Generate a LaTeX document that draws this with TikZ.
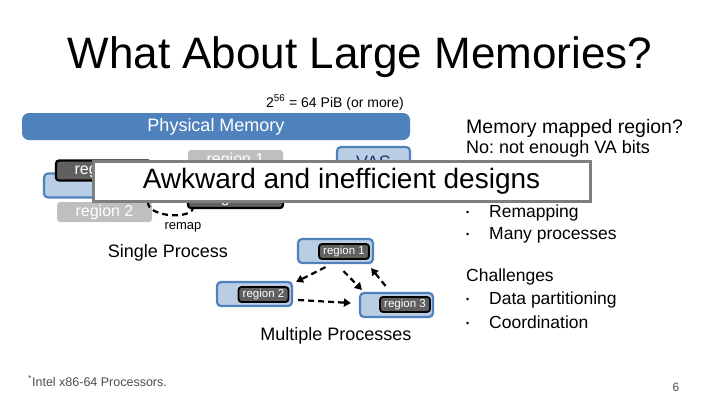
\documentclass[tikz,border=0pt]{standalone}
\usepackage{fontspec}
\setmainfont{Liberation Sans}
\usetikzlibrary{arrows.meta}
\definecolor{barblue}{HTML}{4F81BD}
\definecolor{vasfill}{HTML}{B9CDE5}
\definecolor{vasink}{HTML}{1F3864}
\definecolor{darkreg}{HTML}{606060}
\definecolor{lightreg}{HTML}{BFBFBF}
\definecolor{framegrey}{HTML}{7F7F7F}
\frenchspacing

\begin{document}
\begin{tikzpicture}[
  x=1pt, y=-1pt,
  >={Triangle[length=7pt,width=8pt]},
  big/.style={font=\fontsize{18}{21}\selectfont, inner sep=0pt},
  side/.style={font=\fontsize{17.5}{21}\selectfont, anchor=west, inner sep=0pt},
  bar/.style={fill=barblue, rounded corners=7pt, text=white, inner sep=0pt,
              minimum width=388pt, minimum height=27pt,
              font=\fontsize{18}{21}\selectfont},
  vas/.style={draw=barblue, fill=vasfill, line width=2.2pt, rounded corners=4pt,
              minimum width=75pt, minimum height=24pt, inner sep=0pt},
  reglight/.style={fill=lightreg, rounded corners=3pt, text=white, inner sep=0pt,
                   minimum width=95pt, minimum height=20pt,
                   font=\fontsize{16}{18}\selectfont},
  regdark/.style={draw=black, fill=darkreg, line width=2.2pt, rounded corners=3pt,
                  text=white, inner sep=0pt, minimum width=95pt, minimum height=20pt,
                  font=\fontsize{16}{18}\selectfont},
  regsmall/.style={regdark, line width=1.8pt, minimum width=50pt, minimum height=15pt,
                   font=\fontsize{11.5}{13}\selectfont},
  banner/.style={draw=framegrey, fill=white, line width=3pt, inner sep=0pt,
                 minimum width=497pt, minimum height=40pt,
                 font=\fontsize{28}{32}\selectfont},
  flow/.style={->, line width=2.2pt, dash pattern=on 6pt off 4pt},
  remapline/.style={line width=2.2pt, dash pattern=on 6pt off 4pt},
  bul/.style={side, execute at begin node={\makebox[23pt][l]{\raisebox{2pt}{\fontsize{9}{10}\selectfont\textbullet}}}},
]
\useasboundingbox (0,0) rectangle (720,405);

\node[anchor=base, font=\fontsize{44}{50}\selectfont] (title) at (360,68)
  {What About Large Memories?};
\node[anchor=base, font=\fontsize{14}{16}\selectfont] (size) at (335,107)
  {2\textsuperscript{56} = 64 PiB (or more)};

\node[bar] (phys) at (216,126.5) {Physical Memory};

% single process
\node[vas] (vasS) at (81.5,185.5) {};
\node[regdark] (reg1d) at (103.5,170.5) {region 1};
\node[reglight] (reg2l) at (104.5,212) {region 2};
\node[reglight] (reg1l) at (235.5,160) {region 1};
\node[regdark] (reg2d) at (235.5,198) {region 2};
\node[vas, minimum width=73pt, minimum height=30pt, text=vasink,
      font=\fontsize{18}{21}\selectfont] (vasT) at (373.5,162) {VAS};
\draw[remapline] ([xshift=-4pt]reg2l.north east) .. controls +(-2,14) and +(-6,11) .. ([xshift=6pt]reg2d.south west);
\node[font=\fontsize{13}{15}\selectfont, inner sep=0pt] (remap) at (183,227) {remap};
\node[big] (single) at (168,253) {Single Process};

\node[banner] (awk) at (341.5,181) {Awkward and inefficient designs};

% multiple processes
\node[vas] (vasA) at (335.5,251) {};
\node[regsmall] (regA) at (344,251.5) {region 1};
\node[vas] (vasB) at (254.5,294) {};
\node[regsmall] (regB) at (263.5,294.5) {region 2};
\node[vas, minimum width=73pt] (vasC) at (396.5,305) {};
\node[regsmall] (regC) at (405,304.5) {region 3};

\draw[flow] ([xshift=-10pt,yshift=-3pt]vasA.south) -- ([xshift=3pt,yshift=-1pt]vasB.north east);
\draw[flow] ([xshift=8pt,yshift=-7pt]vasA.south) -- ([xshift=3pt,yshift=2pt]vasC.north west);
\draw[flow] ([xshift=-11pt,yshift=6pt]vasC.north) -- ([xshift=-3pt,yshift=-4pt]vasA.south east);
\draw[flow] ([xshift=5pt,yshift=-6pt]vasB.east) -- ([xshift=-8pt,yshift=2pt]vasC.west);

\node[big] (multi) at (336,336) {Multiple Processes};

% right column
\node[side, font=\fontsize{19.5}{23}\selectfont] (mmr) at (466,128) {Memory mapped region?};
\node[side, font=\fontsize{18}{21}\selectfont] (nobits) at (466,149) {No: not enough VA bits};
\node[bul] (remapping) at (466,213) {Remapping};
\node[bul] (manyproc) at (466,235) {Many processes};
\node[side] (chall) at (466,277) {Challenges};
\node[bul] (datapart) at (466,300) {Data partitioning};
\node[bul] (coord) at (466,322) {Coordination};

% footer
\node[anchor=base west, inner sep=0pt, text=black!70, font=\fontsize{12.5}{14}\selectfont]
  (foot) at (28,386) {\textsuperscript{*}Intel x86-64 Processors.};
\node[inner sep=0pt, text=black!70, font=\fontsize{12}{14}\selectfont] (pagenum) at (676,387) {6};
\end{tikzpicture}
\end{document}
